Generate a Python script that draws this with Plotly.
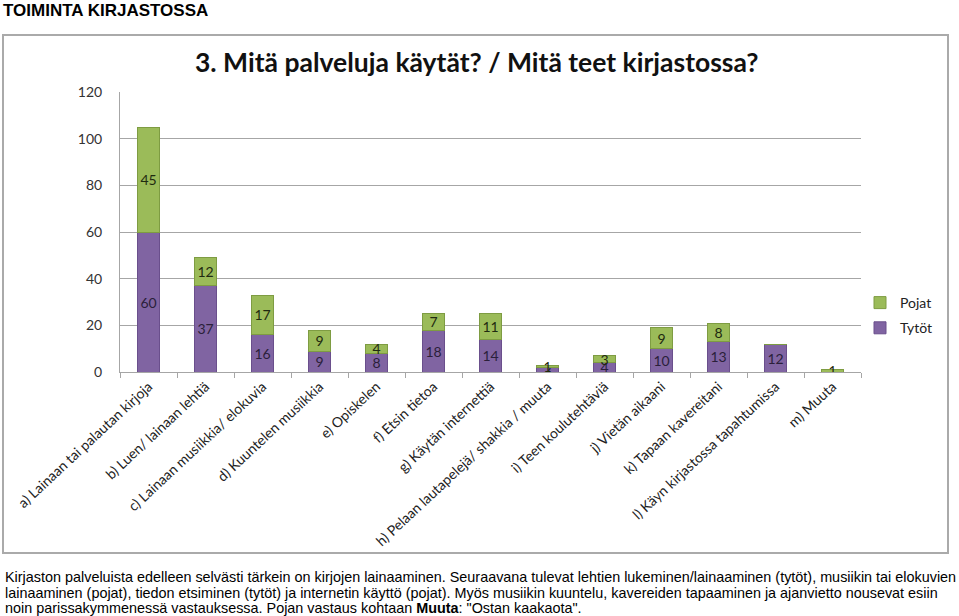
import plotly.graph_objects as go

categories = [
    "a) Lainaan tai palautan kirjoja",
    "b) Luen/ lainaan lehtiä",
    "c) Lainaan musiikkia/ elokuvia",
    "d) Kuuntelen musiikkia",
    "e) Opiskelen",
    "f) Etsin tietoa",
    "g) Käytän internettiä",
    "h) Pelaan lautapelejä/ shakkia / muuta",
    "i) Teen koulutehtäviä",
    "j) Vietän aikaani",
    "k) Tapaan kavereitani",
    "l) Käyn kirjastossa tapahtumissa",
    "m) Muuta",
]
tytot = [60, 37, 16, 9, 8, 18, 14, 2, 4, 10, 13, 12, 0]
pojat = [45, 12, 17, 9, 4, 7, 11, 1, 3, 9, 8, 0, 1]
y_ticks = [0, 20, 40, 60, 80, 100, 120]

W, H = 959, 616
L, R, T, B = 120, 861, 92, 372


def px(x):
    return (x - L) / (R - L)


def py(y):
    return (B - y) / (B - T)


def lbl(vals):
    return [str(v) if v else "" for v in vals]


fig = go.Figure()
fig.add_trace(go.Bar(
    x=categories, y=tytot, name="Tytöt", text=lbl(tytot), legendgroup="t", legendrank=2,
    textposition="inside", insidetextanchor="middle", textangle=0,
    marker=dict(color="#8064a2", line=dict(color="#6a4f8c", width=1)),
    textfont=dict(color="#2b1f3a", family="Lato, sans-serif", size=14),
))
fig.add_trace(go.Bar(
    x=categories, y=pojat, name="Pojat", text=lbl(pojat), legendgroup="p", legendrank=1,
    textposition="inside", insidetextanchor="middle", textangle=0,
    marker=dict(color="#9bbb59", line=dict(color="#7e9c42", width=1)),
    textfont=dict(color="#1f2a10", family="Lato, sans-serif", size=14),
))

fig.update_layout(
    width=W, height=H,
    margin=dict(l=L, r=W - R, t=T, b=H - B, pad=0, autoexpand=False),
    paper_bgcolor="white", plot_bgcolor="white",
    barmode="stack", bargap=0.61,
    uniformtext=dict(minsize=14, mode="show"),
    showlegend=True,
    legend=dict(x=px(860), y=py(287), xanchor="left", yanchor="top",
                traceorder="grouped", tracegroupgap=4,
                font=dict(family="Lato, sans-serif", size=14, color="#222"),
                bgcolor="rgba(0,0,0,0)", itemwidth=30),
    font=dict(family="Lato, sans-serif"),
)
fig.update_yaxes(range=[0, 120], tickvals=y_ticks, showgrid=True, gridcolor="#a6a6a6",
                 gridwidth=1, showline=True, linecolor="#a6a6a6", zeroline=False,
                 tickfont=dict(size=14, color="#333"), ticks="", ticklabelstandoff=14,
                 automargin=False)
fig.update_xaxes(showline=True, linecolor="#a6a6a6", ticks="outside", tickson="boundaries",
                 tickcolor="#a6a6a6", ticklen=5, tickangle=-43,
                 tickfont=dict(size=14, color="#222"), range=[-0.5, 12.5], automargin=False)

# frame of the embedded chart
fig.add_shape(type="rect", xref="paper", yref="paper",
              x0=px(3), x1=px(948), y0=py(553), y1=py(35),
              line=dict(color="#aaaaaa", width=2), layer="below")

# page heading
fig.add_annotation(xref="paper", yref="paper", x=px(2), y=py(0), xanchor="left", yanchor="top",
                   text="<b>TOIMINTA KIRJASTOSSA</b>", showarrow=False, borderpad=0,
                   font=dict(family="Liberation Sans, Arial", size=17, color="#000"))
# chart title
fig.add_annotation(xref="paper", yref="paper", x=px(476), y=py(62), xanchor="center", yanchor="middle",
                   text="<b>3. Mitä palveluja käytät? / Mitä teet kirjastossa?</b>", showarrow=False,
                   font=dict(family="Lato, sans-serif", size=26.5, color="#111"))

# paragraph below
para = [
    "Kirjaston palveluista edelleen selvästi tärkein on kirjojen lainaaminen. Seuraavana tulevat lehtien lukeminen/lainaaminen (tytöt), musiikin tai elokuvien",
    "lainaaminen (pojat), tiedon etsiminen (tytöt) ja internetin käyttö (pojat). Myös musiikin kuuntelu, kavereiden tapaaminen ja ajanvietto nousevat esiin",
    "noin parissakymmenessä vastauksessa. Pojan vastaus kohtaan <b>Muuta</b>: \"Ostan kaakaota\".",
]
para_y = [577, 593, 608]
for t, yy in zip(para, para_y):
    fig.add_annotation(xref="paper", yref="paper", x=px(3), y=py(yy), xanchor="left", yanchor="middle",
                       text=t, showarrow=False,
                       font=dict(family="Liberation Sans, Arial", size=14.4, color="#000"))

fig.write_html("out.html", config={"displayModeBar": False},
               post_script="document.body.style.margin='0px';document.body.style.overflow='hidden';")
